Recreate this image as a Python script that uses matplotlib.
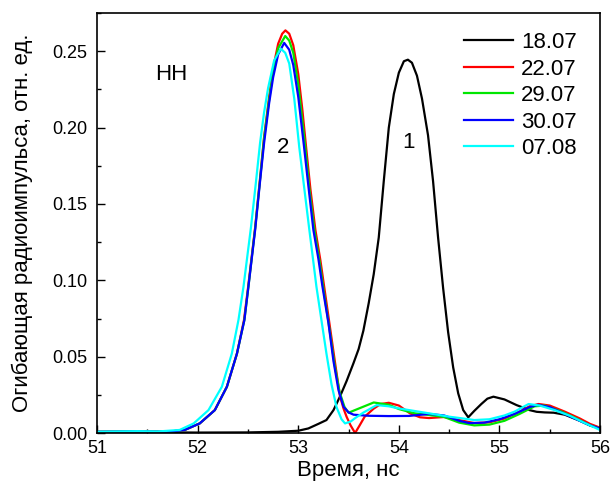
import numpy as np
import matplotlib
matplotlib.use("Agg")
import matplotlib.pyplot as plt
from matplotlib.ticker import MultipleLocator

plt.rcParams['font.family'] = ['Liberation Sans', 'DejaVu Sans']

# 18.07 (curve 1)
t_1807 = [51.0, 51.5, 52.0, 52.5, 52.8, 53.0, 53.1, 53.2, 53.28, 53.35, 53.415, 53.48,
          53.548, 53.6, 53.647, 53.7, 53.75, 53.8, 53.85, 53.9, 53.95, 54.0, 54.05, 54.09,
          54.13, 54.18, 54.23, 54.29, 54.34, 54.39, 54.44, 54.49, 54.54, 54.59, 54.64, 54.69,
          54.75, 54.82, 54.88, 54.94, 55.05, 55.17, 55.3, 55.37, 55.45, 55.54, 55.65, 55.8,
          55.9, 56.0]
v_1807 = [0.0004, 0.0005, 0.0003, 0.0004, 0.0008, 0.0015, 0.003, 0.006, 0.0085, 0.015, 0.024, 0.034,
          0.0456, 0.055, 0.067, 0.085, 0.104, 0.128, 0.165, 0.2, 0.222, 0.236, 0.2435, 0.2445,
          0.2425, 0.234, 0.219, 0.195, 0.165, 0.128, 0.095, 0.066, 0.043, 0.026, 0.015, 0.0103,
          0.0145, 0.019, 0.0225, 0.0238, 0.022, 0.0183, 0.015, 0.0139, 0.0135, 0.0133, 0.012, 0.008,
          0.005, 0.003]

# 22.07
t_2207 = [51.0, 51.4, 51.7, 51.87, 52.02, 52.17, 52.29, 52.39, 52.46, 52.5, 52.57, 52.62,
          52.66, 52.71, 52.75, 52.8, 52.84, 52.872, 52.91, 52.95, 53.0, 53.04, 53.078, 53.12,
          53.17, 53.22, 53.27, 53.32, 53.37, 53.415, 53.45, 53.48, 53.52, 53.565, 53.61, 53.66,
          53.75, 53.82, 53.9, 54.0, 54.11, 54.21, 54.3, 54.45, 54.6, 54.75, 54.9, 55.05,
          55.2, 55.3, 55.39, 55.5, 55.65, 55.8, 55.9, 56.0]
v_2207 = [0.0008, 0.001, 0.0008, 0.002, 0.0063, 0.015, 0.0303, 0.052, 0.074, 0.095, 0.134, 0.167,
          0.194, 0.22, 0.239, 0.255, 0.2615, 0.2637, 0.2615, 0.254, 0.235, 0.212, 0.187, 0.16,
          0.133, 0.113, 0.09, 0.067, 0.044, 0.024, 0.016, 0.0107, 0.005, 0.0, 0.005, 0.0107,
          0.016, 0.019, 0.0198, 0.018, 0.0129, 0.0103, 0.0098, 0.0105, 0.0085, 0.0065, 0.007, 0.0095,
          0.014, 0.0175, 0.019, 0.018, 0.014, 0.0095, 0.006, 0.0035]

# 29.07
t_2907 = [51.0, 51.4, 51.7, 51.87, 52.02, 52.17, 52.29, 52.39, 52.464, 52.504, 52.571, 52.62,
          52.66, 52.71, 52.75, 52.8, 52.87, 52.91, 52.95, 53.0, 53.07, 53.11, 53.16, 53.21,
          53.26, 53.31, 53.36, 53.41, 53.46, 53.5, 53.6, 53.75, 53.9, 54.0, 54.15, 54.3,
          54.45, 54.6, 54.75, 54.9, 55.05, 55.2, 55.35, 55.45, 55.6, 55.75, 55.9, 56.0]
v_2907 = [0.0008, 0.001, 0.0008, 0.002, 0.0063, 0.015, 0.0303, 0.052, 0.074, 0.0958, 0.134, 0.166,
          0.193, 0.218, 0.237, 0.252, 0.260, 0.257, 0.249, 0.228, 0.187, 0.16, 0.133, 0.113,
          0.09, 0.068, 0.045, 0.027, 0.017, 0.0133, 0.016, 0.02, 0.0185, 0.0157, 0.013, 0.0118,
          0.0105, 0.0068, 0.005, 0.0055, 0.008, 0.0125, 0.0175, 0.018, 0.0145, 0.01, 0.005, 0.003]

# 30.07
t_3007 = [51.0, 51.4, 51.7, 51.87, 52.02, 52.17, 52.29, 52.39, 52.464, 52.504, 52.571, 52.62,
          52.66, 52.71, 52.75, 52.8, 52.86, 52.91, 52.95, 53.0, 53.058, 53.1, 53.15, 53.2,
          53.24, 53.3, 53.35, 53.4, 53.45, 53.5, 53.55, 53.7, 53.9, 54.1, 54.3, 54.45,
          54.6, 54.7, 54.85, 55.0, 55.15, 55.3, 55.38, 55.5, 55.65, 55.8, 55.9, 56.0]
v_3007 = [0.0008, 0.001, 0.0008, 0.002, 0.0063, 0.015, 0.0303, 0.052, 0.074, 0.0958, 0.133, 0.165,
          0.19, 0.216, 0.233, 0.248, 0.2555, 0.251, 0.241, 0.22, 0.187, 0.162, 0.133, 0.114,
          0.096, 0.072, 0.047, 0.028, 0.0172, 0.0135, 0.012, 0.0113, 0.0111, 0.0112, 0.0125, 0.0115,
          0.008, 0.0065, 0.0068, 0.009, 0.0125, 0.017, 0.0185, 0.017, 0.0125, 0.008, 0.005, 0.003]

# 07.08
t_0708 = [51.0, 51.4, 51.6, 51.82, 51.96, 52.107, 52.24, 52.339, 52.405, 52.455, 52.53, 52.58,
          52.62, 52.66, 52.7, 52.76, 52.826, 52.87, 52.91, 52.96, 53.01, 53.06, 53.11, 53.15,
          53.18, 53.23, 53.28, 53.33, 53.38, 53.43, 53.465, 53.52, 53.57, 53.65, 53.78, 53.9,
          54.0, 54.15, 54.3, 54.5, 54.63, 54.75, 54.9, 55.05, 55.15, 55.29, 55.4, 55.55,
          55.7, 55.85, 56.0]
v_0708 = [0.0008, 0.0012, 0.001, 0.002, 0.0063, 0.015, 0.0303, 0.052, 0.074, 0.0958, 0.135, 0.165,
          0.19, 0.21, 0.226, 0.244, 0.2517, 0.249, 0.242, 0.219, 0.187, 0.16, 0.133, 0.112,
          0.096, 0.074, 0.052, 0.032, 0.017, 0.009, 0.0063, 0.0075, 0.01, 0.0135, 0.0183, 0.0175,
          0.0161, 0.0145, 0.0129, 0.0107, 0.0096, 0.0085, 0.009, 0.0115, 0.014, 0.019, 0.018, 0.015,
          0.0113, 0.0065, 0.002]

series = [
    ("18.07", t_1807, v_1807, "black"),
    ("22.07", t_2207, v_2207, "#ff0000"),
    ("29.07", t_2907, v_2907, "#00e600"),
    ("30.07", t_3007, v_3007, "#0000ff"),
    ("07.08", t_0708, v_0708, "#00ffff"),
]

fig = plt.figure(figsize=(6.11, 4.86), dpi=100)
ax = fig.add_axes([0.159, 0.109, 0.823, 0.864])

for label, t, v, c in series:
    ax.plot(t, v, color=c, lw=1.6, label=label, solid_joinstyle='round')

ax.set_xlim(51, 56)
ax.set_ylim(0, 0.275)
ax.xaxis.set_major_locator(MultipleLocator(1))
ax.xaxis.set_minor_locator(MultipleLocator(0.5))
ax.yaxis.set_major_locator(MultipleLocator(0.05))
ax.yaxis.set_minor_locator(MultipleLocator(0.025))
ax.yaxis.set_major_formatter(plt.FuncFormatter(lambda y, _: f"{y:.2f}"))
ax.tick_params(which='both', direction='in', top=False, right=False, labelsize=13)
ax.tick_params(which='major', length=6, width=1)
ax.tick_params(axis='y', which='major', pad=7)
ax.tick_params(axis='x', which='major', pad=5)
ax.tick_params(which='minor', length=3, width=1)
for s in ax.spines.values():
    s.set_linewidth(1.2)

ax.set_xlabel("Время, нс", fontsize=16, labelpad=2)
ax.set_ylabel("Огибающая радиоимпульса, отн. ед.", fontsize=16, labelpad=14)

ax.text(51.74, 0.235, "НН", fontsize=16, ha='center', va='center')
ax.text(52.847, 0.187, "2", fontsize=16, ha='center', va='center')
ax.text(54.095, 0.19, "1", fontsize=16, ha='center', va='center')

ax.legend(loc='upper left', bbox_to_anchor=(0.7296, 0.955), frameon=False,
          fontsize=16, handlelength=2.2, handletextpad=0.36, labelspacing=0.25,
          borderpad=0, borderaxespad=0)

fig.savefig("out.png", dpi=100)
